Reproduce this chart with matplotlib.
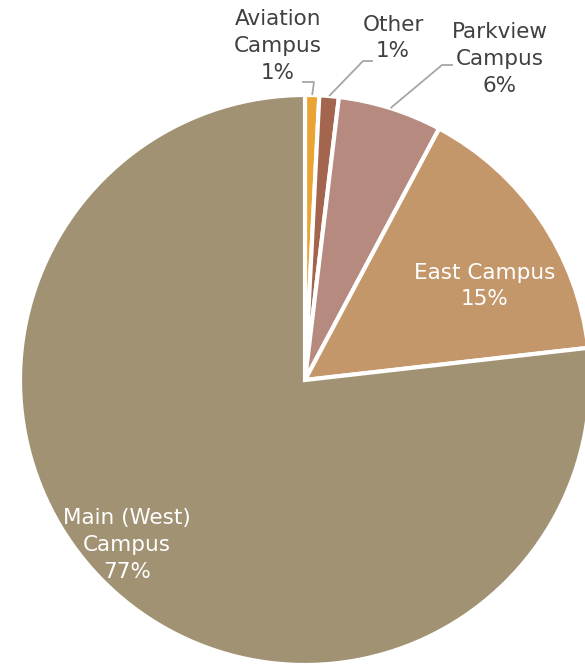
import numpy as np
import matplotlib
matplotlib.use("Agg")
import matplotlib.pyplot as plt

labels = ["Aviation\nCampus", "Other", "Parkview\nCampus", "East Campus", "Main (West)\nCampus"]
values = [0.8, 1.1, 5.9, 15.4, 76.8]
pct_labels = ["1%", "1%", "6%", "15%", "77%"]
colors = ["#E9A433", "#A3654D", "#B68A7E", "#C4976B", "#A09272"]

W, H = 585, 669
fig = plt.figure(figsize=(W / 100, H / 100), dpi=100)
ax = fig.add_axes([0, 0, 1, 1])
cx, cy, R = 305, 380, 285  # pixel geometry of pie

wedges, _ = ax.pie(values, colors=colors, startangle=90, counterclock=False,
                   radius=1, center=(0, 0),
                   wedgeprops=dict(edgecolor="white", linewidth=3))
ax.set_aspect("auto")
ax.set_xlim(-cx / R, (W - cx) / R)
ax.set_ylim(-(H - cy) / R, cy / R)
ax.axis("off")

def px(x, y):
    return ((x - cx) / R, (cy - y) / R)

font = "DejaVu Sans"
fs = 15.5
ls = 1.42
outside_col = "#404040"
line_col = "#A6A6A6"

def mid_point(w, r=1.0):
    a = np.deg2rad((w.theta1 + w.theta2) / 2)
    return r * np.cos(a), r * np.sin(a)

# Outside labels with leader lines: (label centre px, line start px, elbow px)
outside = {
    0: ((278, 46), (302, 82), (314, 82)),
    1: ((393, 38), (373, 61), (363, 61)),
    2: ((500, 59), (453, 65), (442, 65)),
}
for i, (lc, start, elbow) in outside.items():
    tx, ty = px(*lc)
    ax.text(tx, ty, labels[i] + "\n" + pct_labels[i], ha="center", va="center",
            fontsize=fs, color=outside_col, family=font, linespacing=ls)
    mx, my = mid_point(wedges[i], 1.0)
    sx, sy = px(*start)
    ex, ey = px(*elbow)
    ax.plot([sx, ex, mx], [sy, ey, my], color=line_col, lw=1.3, solid_capstyle="butt")

# Inside labels
inside = {3: (485, 286), 4: (127, 545)}
for i, lc in inside.items():
    tx, ty = px(*lc)
    ax.text(tx, ty, labels[i] + "\n" + pct_labels[i], ha="center", va="center",
            fontsize=fs, color="white", family=font, linespacing=ls)

fig.savefig("out.png", dpi=100)
